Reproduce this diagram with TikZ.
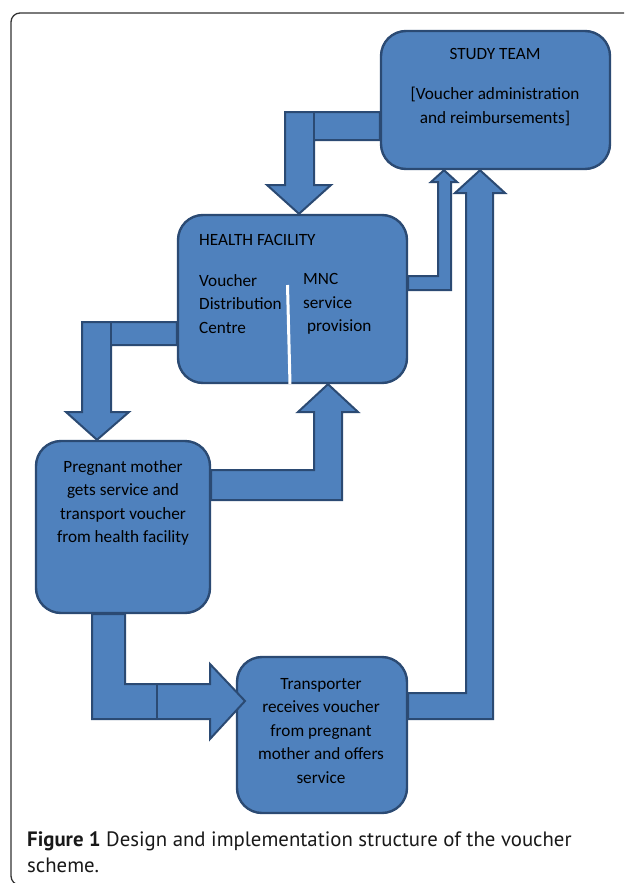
\documentclass[tikz,border=0pt]{standalone}
\usepackage{fontspec}
\setmainfont{Carlito}
\newfontfamily\captionfont{PT Sans}
\usepackage{tikz}
\usetikzlibrary{positioning, calc}
\definecolor{boxfill}{HTML}{4F81BD}
\definecolor{boxline}{HTML}{2B4A73}
\definecolor{framegray}{HTML}{333333}
\tikzstyle{box} = [rectangle, rounded corners=25pt, draw=boxline, line width=2.4pt, fill=boxfill]
\tikzstyle{blockarrow} = [draw=boxline, line width=2pt, fill=boxfill, line join=miter]
\tikzstyle{seam} = [draw=boxline, line width=2pt]
\tikzstyle{txt} = [font=\fontsize{17.2}{23.5}\selectfont, text=black, inner sep=0pt]
\tikzstyle{divider} = [draw=white, line width=3pt]

\begin{document}
\begin{tikzpicture}[x=1pt, y=-1pt]
		\useasboundingbox (0,0) rectangle (624,883);
		\begin{scope}
			\clip (0,0) rectangle (624,883);
			\draw [framegray, line width=1.3pt, rounded corners=9pt] (11,13) rectangle (660,885);
		\end{scope}
		\node (Team) [box, minimum width=229pt, minimum height=138pt] at (495.5,100) {};
		\node (Health) [box, minimum width=229pt, minimum height=168pt] at (292.5,299) {};
		\node (Mother) [box, minimum width=174pt, minimum height=172pt] at (123,527) {};
		\node (Transporter) [box, minimum width=170pt, minimum height=156pt] at (322,735) {};
		\draw [blockarrow] (Team.west |- 0,112) -- (285,112) -- (285,185) -- (267,185) -- (299,0 |- Health.north) -- (331,185) -- (314,185) -- (314,140) -- (Team.west |- 0,140) -- cycle;
		\draw [seam] (314,112) -- (314,140);
		\draw [blockarrow] (Health.east |- 0,276) -- (438,276) -- (438,182) -- (431,182) -- (444,0 |- Team.south) -- (457,182) -- (451,182) -- (451,290) -- (Health.east |- 0,290) -- cycle;
		\draw [blockarrow] (Transporter.east |- 0,693) -- (466,693) -- (466,193) -- (455,193) -- (480,0 |- Team.south) -- (505,193) -- (493,193) -- (493,719) -- (Transporter.east |- 0,719) -- cycle;
		\draw [blockarrow] (Health.west |- 0,322) -- (82,322) -- (82,412) -- (66,412) -- (97,0 |- Mother.north) -- (129,412) -- (111,412) -- (111,345) -- (Health.west |- 0,345) -- cycle;
		\draw [seam] (111,322) -- (111,345);
		\draw [blockarrow] (Mother.east |- 0,470) -- (314,470) -- (314,412) -- (298,412) -- (328,0 |- Health.south) -- (358,412) -- (342,412) -- (342,500) -- (Mother.east |- 0,500) -- cycle;
		\draw [blockarrow] (92,0 |- Mother.south) -- (92,719) -- (210,719) -- (210,739) -- (245,701) -- (210,664) -- (210,684) -- (125,684) -- (125,0 |- Mother.south) -- cycle;
		\draw [seam] (157,684) -- (157,719);
		\draw [divider] (287.5,285) -- (290,0 |- Health.south);
		\node (TeamTitle) [txt] at (495,54) {STUDY TEAM};
		\node (TeamText) [txt, align=center] at (495,106.5) {[Voucher administration\\and reimbursements]};
		\node (HealthTitle) [txt, anchor=west] at (199,240) {HEALTH FACILITY};
		\node (HealthLeft) [txt, align=left, anchor=west] at (199,304) {Voucher\\Distribution\\Centre};
		\node (HealthRight) [txt, align=left, anchor=west] at (303,304) {MNC\\service\\\hspace*{4pt}provision};
		\node (MotherText) [txt, align=center] at (123,503) {Pregnant mother\\gets service and\\transport voucher\\from health facility};
		\node (TransporterText) [txt, align=center] at (321,731) {Transporter\\receives voucher\\from pregnant\\mother and offers\\service};
		\node (Caption) [anchor=west, align=left, inner sep=0pt, font=\captionfont\fontsize{20.8}{26}\selectfont, text=black!90] at (27,852) {\textbf{Figure 1} Design and implementation structure of the voucher\\scheme.};
\end{tikzpicture}
\end{document}
